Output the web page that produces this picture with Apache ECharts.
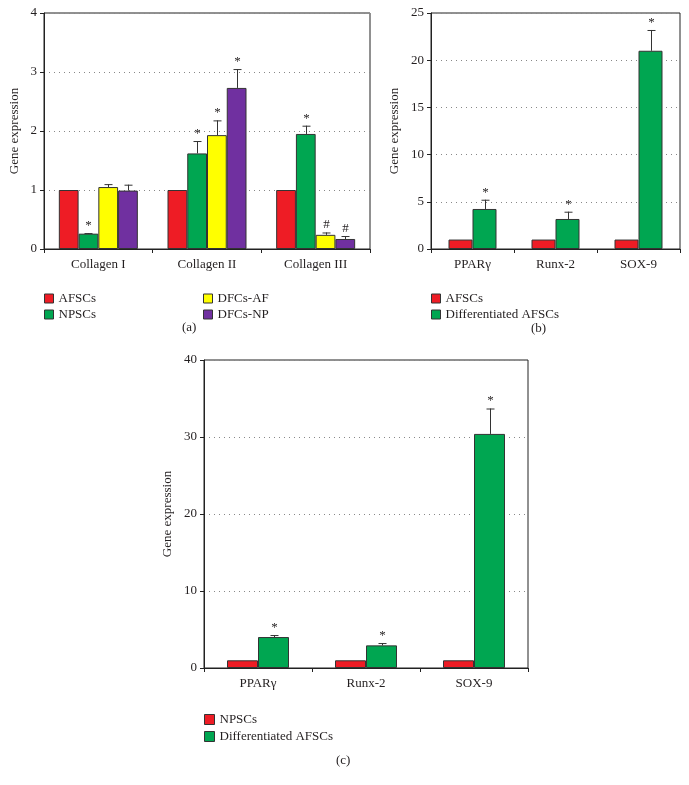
<!DOCTYPE html>
<html><head><meta charset="utf-8">
<script src="https://cdn.jsdelivr.net/npm/echarts@6/dist/echarts.min.js"></script>
<style>html,body{margin:0;padding:0;background:#fff}#c{width:689px;height:785px}</style>
</head><body><div id="c"></div>
<script>
// ---- data ----
const catsA = ['Collagen I', 'Collagen II', 'Collagen III'];
const afscA = [1, 1, 1];
const npscA = [0.26, 1.62, 1.95];
const dfcAfA = [1.05, 1.93, 0.24];
const dfcNpA = [0.99, 2.73, 0.17];
const errNpscA = [0.01, 0.21, 0.14];
const errDfcAfA = [0.05, 0.25, 0.04];
const errDfcNpA = [0.10, 0.32, 0.05];
const markNpscA = ['*', '*', '*'];
const markDfcAfA = ['', '*', '#'];
const markDfcNpA = ['', '*', '#'];
const ticksA = [0, 1, 2, 3, 4];

const catsB = ['PPARγ', 'Runx-2', 'SOX-9'];
const afscB = [1, 1, 1];
const diffB = [4.24, 3.18, 21.0];
const errDiffB = [0.98, 0.77, 2.2];
const markDiffB = ['*', '*', '*'];
const ticksB = [0, 5, 10, 15, 20, 25];

const catsC = ['PPARγ', 'Runx-2', 'SOX-9'];
const npscC = [1, 1, 1];
const diffC = [4.02, 2.94, 30.4];
const errDiffC = [0.26, 0.30, 3.3];
const markDiffC = ['*', '*', '*'];
const ticksC = [0, 10, 20, 30, 40];

// ---- styles ----
const RED = '#ee1c25', GREEN = '#00a651', YELLOW = '#ffff00', PURPLE = '#7030a0';
const FONT = 'Liberation Serif';
const TXT = '#231f20';

const chart = echarts.init(document.getElementById('c'));

function pairs(vals, errs) { return vals.map((v, i) => [i, v, errs[i]]); }

function errSeries(idx, vals, errs, marks, offset) {
  return {
    type: 'custom', name: 'err', xAxisIndex: idx, yAxisIndex: idx, z: 5,
    data: pairs(vals, errs),
    renderItem: function (params, api) {
      const c = api.value(0), v = api.value(1), e = api.value(2);
      const b = api.coord([c, v]);
      const t = api.coord([c, v + e]);
      const x = Math.round(b[0] + offset) + 0.5;
      const children = [
        { type: 'line', shape: { x1: x, y1: b[1], x2: x, y2: t[1] }, style: { stroke: '#333', lineWidth: 1 } },
        { type: 'line', shape: { x1: x - 4, y1: t[1] + 0.5, x2: x + 4, y2: t[1] + 0.5 }, style: { stroke: '#333', lineWidth: 1 } }
      ];
      const m = marks[params.dataIndex];
      if (m) {
        children.push({ type: 'text', style: { text: m, x: x, y: t[1] - 1, align: 'center', verticalAlign: 'bottom', fill: TXT, font: '13px "' + FONT + '"' } });
      }
      return { type: 'group', children: children };
    }
  };
}

function barSeries(idx, name, vals, color, width) {
  return {
    type: 'bar', name: name, xAxisIndex: idx, yAxisIndex: idx, data: vals,
    barWidth: width, barGap: '0%',
    itemStyle: { color: color, borderColor: '#333', borderWidth: 1 },
    emphasis: { disabled: true }
  };
}

function xAxis(idx, cats) {
  return {
    type: 'category', gridIndex: idx, data: cats,
    axisLine: { lineStyle: { color: '#222', width: 1 } },
    axisTick: { show: true, length: 4, lineStyle: { color: '#222' } },
    axisLabel: { color: TXT, fontFamily: FONT, fontSize: 13, margin: 9 }
  };
}
function yAxis(idx, ticks) {
  return {
    type: 'value', gridIndex: idx, min: ticks[0], max: ticks[ticks.length - 1], interval: ticks[1] - ticks[0],
    name: 'Gene expression', nameLocation: 'middle',
    nameGap: idx === 0 ? 23 : 30,
    nameTextStyle: { color: TXT, fontFamily: FONT, fontSize: 13 },
    axisLine: { show: true, lineStyle: { color: '#222', width: 1 } },
    axisTick: { show: true, length: 4, lineStyle: { color: '#222' } },
    axisLabel: { color: TXT, fontFamily: FONT, fontSize: 13, margin: 7 },
    splitLine: { show: true, lineStyle: { color: '#888', type: [1, 4], width: 1 } }
  };
}
function legend(left, top, items, gap, size) {
  return {
    left: left, top: top, orient: 'vertical', padding: 0, itemGap: gap, itemWidth: size, itemHeight: size,
    icon: 'rect', selectedMode: false,
    textStyle: { color: TXT, fontFamily: FONT, fontSize: 13 },
    itemStyle: { borderColor: '#333', borderWidth: 1 },
    data: items.map(it => ({ name: it[0], itemStyle: { color: it[1], borderColor: '#333', borderWidth: 1 } }))
  };
}

const wA = 19.75, wB = 24, wC = 31;

chart.setOption({
  animation: false,
  backgroundColor: '#fff',
  grid: [
    { left: 44, top: 13, width: 326, height: 236, show: true, borderColor: '#222', borderWidth: 1 },
    { left: 431, top: 13, width: 249, height: 236, show: true, borderColor: '#222', borderWidth: 1 },
    { left: 204, top: 360, width: 324, height: 308, show: true, borderColor: '#222', borderWidth: 1 }
  ],
  xAxis: [xAxis(0, catsA), xAxis(1, catsB), xAxis(2, catsC)],
  yAxis: [yAxis(0, ticksA), yAxis(1, ticksB), yAxis(2, ticksC)],
  legend: [
    legend(44, 292, [['AFSCs', RED], ['NPSCs', GREEN]], 3, 9),
    legend(203, 292, [['DFCs-AF', YELLOW], ['DFCs-NP', PURPLE]], 3, 9),
    legend(431, 292, [['AFSCs', RED], ['Differentiated AFSCs', GREEN]], 3, 9),
    legend(204, 713, [['NPSCs', RED], ['Differentiated AFSCs', GREEN]], 4, 10)
  ],
  graphic: [
    { type: 'text', left: 182, top: 321, style: { text: '(a)', fill: TXT, font: '13px "' + FONT + '"' } },
    { type: 'text', left: 531, top: 322, style: { text: '(b)', fill: TXT, font: '13px "' + FONT + '"' } },
    { type: 'text', left: 336, top: 754, style: { text: '(c)', fill: TXT, font: '13px "' + FONT + '"' } }
  ],
  series: [
    barSeries(0, 'AFSCs', afscA, RED, wA),
    barSeries(0, 'NPSCs', npscA, GREEN, wA),
    barSeries(0, 'DFCs-AF', dfcAfA, YELLOW, wA),
    barSeries(0, 'DFCs-NP', dfcNpA, PURPLE, wA),
    errSeries(0, npscA, errNpscA, markNpscA, -0.5 * wA),
    errSeries(0, dfcAfA, errDfcAfA, markDfcAfA, 0.5 * wA),
    errSeries(0, dfcNpA, errDfcNpA, markDfcNpA, 1.5 * wA),
    barSeries(1, 'AFSCs', afscB, RED, wB),
    barSeries(1, 'Differentiated AFSCs', diffB, GREEN, wB),
    errSeries(1, diffB, errDiffB, markDiffB, 0.5 * wB),
    barSeries(2, 'NPSCs', npscC, RED, wC),
    barSeries(2, 'Differentiated AFSCs', diffC, GREEN, wC),
    errSeries(2, diffC, errDiffC, markDiffC, 0.5 * wC)
  ]
});
</script>
</body></html>
